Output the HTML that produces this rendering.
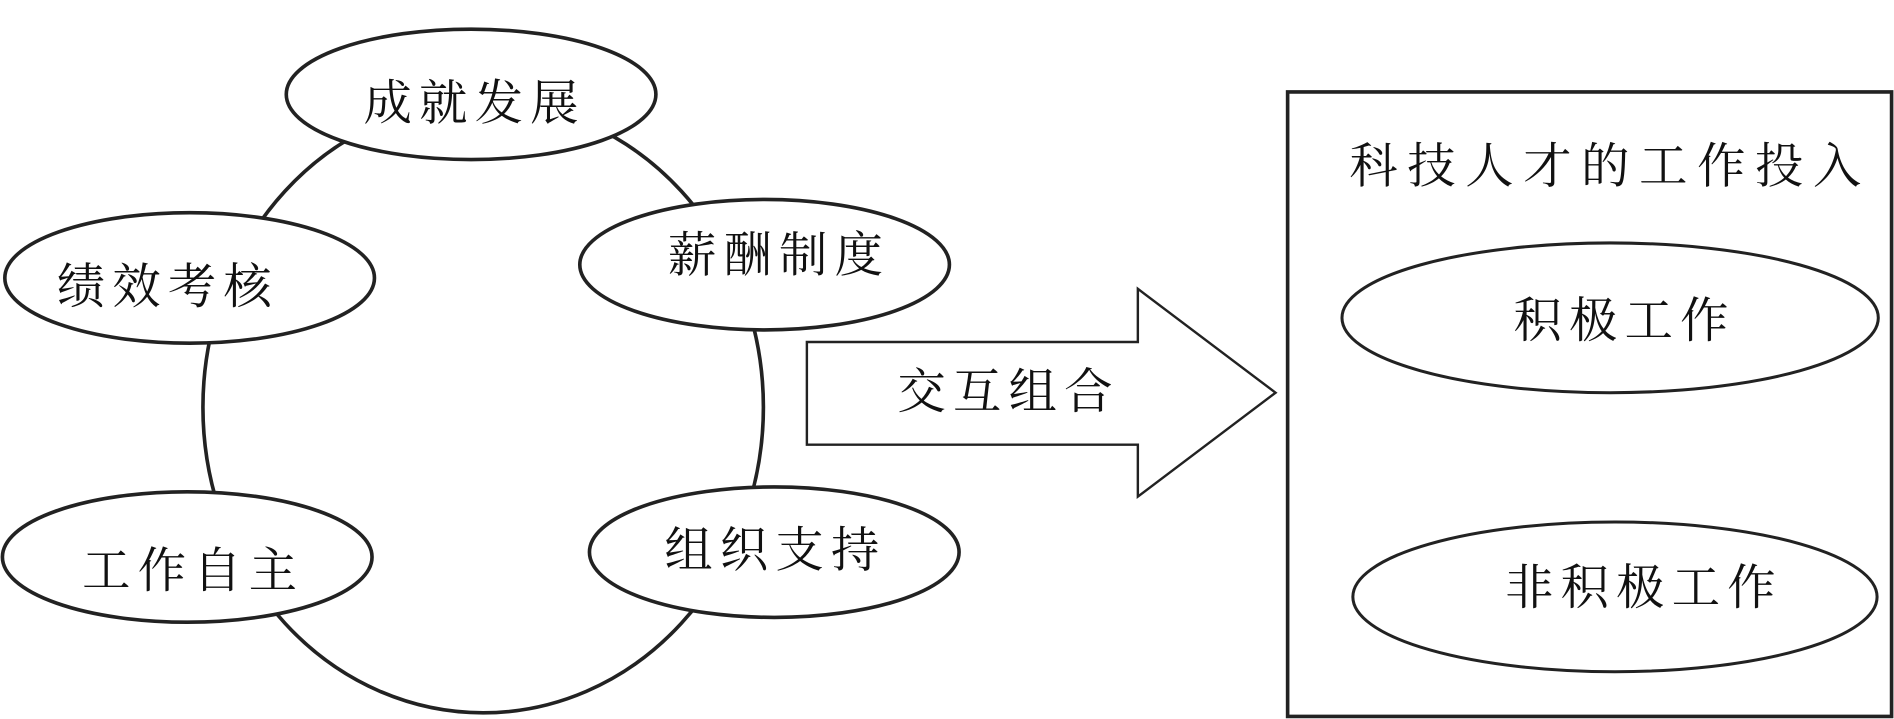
<!DOCTYPE html>
<html><head><meta charset="utf-8"><style>
html,body{margin:0;padding:0;background:#fff;width:1894px;height:719px;overflow:hidden}
svg{display:block}
text{font-family:"Liberation Serif","Noto Serif CJK SC",serif;font-size:40px;fill:#111;text-anchor:middle;dominant-baseline:central;letter-spacing:6px}
</style></head><body>
<svg width="1894" height="719" viewBox="0 0 1568 595" xmlns="http://www.w3.org/2000/svg">
<g fill="#fff" stroke="#222" stroke-width="3">
<ellipse cx="400" cy="337" rx="232" ry="253"/>
<ellipse cx="390" cy="78" rx="153" ry="54"/>
<ellipse cx="157" cy="230" rx="153" ry="54"/>
<ellipse cx="633" cy="219" rx="153" ry="54"/>
<ellipse cx="155" cy="461" rx="153" ry="54"/>
<ellipse cx="641" cy="457" rx="153" ry="54"/>
<polygon points="668,283 942,283 942,239 1056,325 942,411 942,368 668,368" stroke-width="2"/>
<rect x="1066" y="76" width="500" height="517"/>
<ellipse cx="1333" cy="263" rx="222" ry="62" stroke-width="2.5"/>
<ellipse cx="1337" cy="494" rx="217" ry="62" stroke-width="2.5"/>
</g>
<text x="393" y="86">成就发展</text>
<text x="139" y="238">绩效考核</text>
<text x="645" y="212">薪酬制度</text>
<text x="160" y="473">工作自主</text>
<text x="642" y="456">组织支持</text>
<text x="835" y="325">交互组合</text>
<text x="1333" y="138" style="letter-spacing:8px">科技人才的工作投入</text>
<text x="1345" y="266">积极工作</text>
<text x="1361" y="487">非积极工作</text>
</svg>
</body></html>
